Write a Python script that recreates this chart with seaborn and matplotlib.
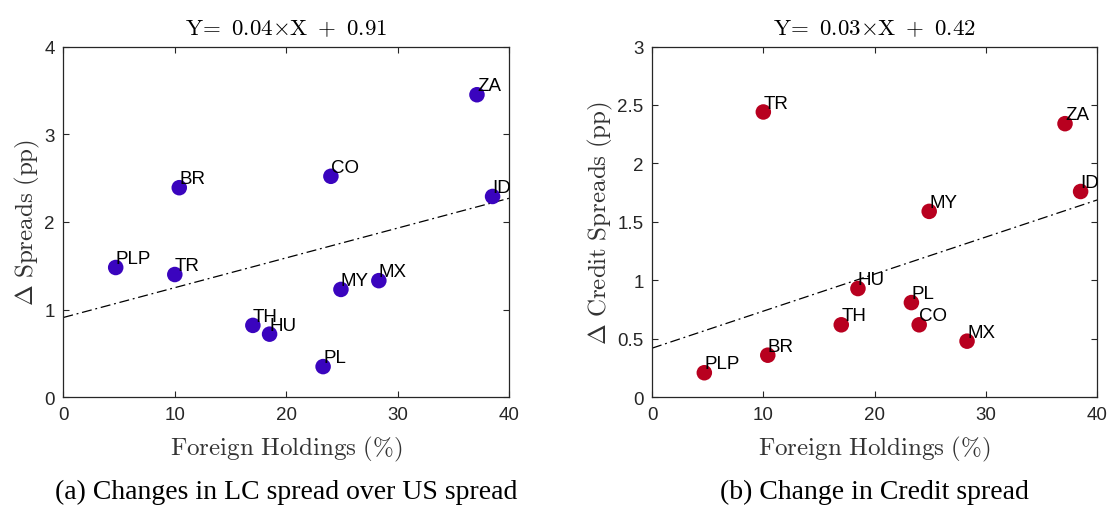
import numpy as np
import pandas as pd
import matplotlib
matplotlib.use("Agg")
import matplotlib.pyplot as plt
import seaborn as sns

# ---- data ----
countries = ["PLP", "TR", "BR", "TH", "HU", "PL", "CO", "MY", "MX", "ZA", "ID"]
foreign_holdings = [4.7, 10.0, 10.4, 17.0, 18.5, 23.3, 24.0, 24.9, 28.3, 37.1, 38.5]
lc_spread_change = [1.48, 1.40, 2.39, 0.82, 0.72, 0.35, 2.52, 1.23, 1.33, 3.45, 2.29]
credit_spread_change = [0.21, 2.44, 0.36, 0.62, 0.93, 0.81, 0.62, 1.59, 0.48, 2.34, 1.76]
fit_lc = [0.034, 0.91]       # slope, intercept as drawn
fit_credit = [0.0317, 0.42]
titles = [r"$\mathrm{Y}\!=\ 0.04{\times}\mathrm{X}\ +\ 0.91$",
          r"$\mathrm{Y}\!=\ 0.03{\times}\mathrm{X}\ +\ 0.42$"]
ylabels = [r"$\Delta\ \mathrm{Spreads\ (pp)}$",
           r"$\Delta\ \mathrm{Credit\ Spreads\ (pp)}$"]
xlabel = r"$\mathrm{Foreign\ Holdings\ (\%)}$"
captions = ["(a) Changes in LC spread over US spread", "(b) Change in Credit spread"]
yticks_list = [[0, 1, 2, 3, 4], [0, 0.5, 1, 1.5, 2, 2.5, 3]]
yticklabels_list = [["0", "1", "2", "3", "4"], ["0", "0.5", "1", "1.5", "2", "2.5", "3"]]
xticks = [0, 10, 20, 30, 40]

sns.set_theme(style="ticks")
plt.rcParams["font.family"] = ["Liberation Sans", "DejaVu Sans"]
plt.rcParams["mathtext.fontset"] = "cm"

W, H = 1110, 506
fig = plt.figure(figsize=(W / 100, H / 100), dpi=100)
ax_pos = [(63.3, 47.5, 446, 350.8), (652, 47.5, 445.3, 350.8)]
colors = ["#3a04be", "#b8001f"]
ys = [lc_spread_change, credit_spread_change]
fits = [fit_lc, fit_credit]
ylims = [(0, 4), (0, 3)]
dark = "#262626"

for i in range(2):
    l, t, w, h = ax_pos[i]
    ax = fig.add_axes([l / W, 1 - (t + h) / H, w / W, h / H])
    df = pd.DataFrame({"x": foreign_holdings, "y": ys[i], "c": countries})
    sns.scatterplot(data=df, x="x", y="y", color=colors[i], s=125,
                    edgecolor="none", ax=ax, zorder=3)
    xs = np.array([0, 40])
    sns.lineplot(x=xs, y=fits[i][0] * xs + fits[i][1], color="black",
                 linewidth=0.9, linestyle=(0, (8, 3, 1.5, 3)), ax=ax, zorder=2)
    for _, r in df.iterrows():
        ax.annotate(r["c"], (r["x"], r["y"]), xytext=(0, 3.2),
                    textcoords="offset points", ha="left", va="baseline",
                    fontsize=13.5, color="black", zorder=4)
    ax.set_xlim(0, 40)
    ax.set_ylim(*ylims[i])
    ax.set_xticks(xticks)
    ax.set_xticklabels([str(v) for v in xticks])
    ax.set_yticks(yticks_list[i])
    ax.set_yticklabels(yticklabels_list[i])
    ax.tick_params(direction="in", top=True, right=True, length=4, width=0.8,
                   colors=dark, labelsize=13.5, pad=6)
    for s in ax.spines.values():
        s.set_visible(True)
        s.set_color(dark)
        s.set_linewidth(0.9)
    ax.set_xlabel(xlabel, fontsize=18, color="#333333", labelpad=8)
    ax.set_ylabel(ylabels[i], fontsize=18, color="#333333", labelpad=2)
    ax.set_title(titles[i], fontsize=16.5, color="black", pad=9)
    fig.text((l + w / 2) / W, 1 - 492 / H, captions[i], ha="center", va="center",
             fontsize=20, family=["Liberation Serif", "DejaVu Serif"], color="black")

fig.savefig("out.png", dpi=100)
